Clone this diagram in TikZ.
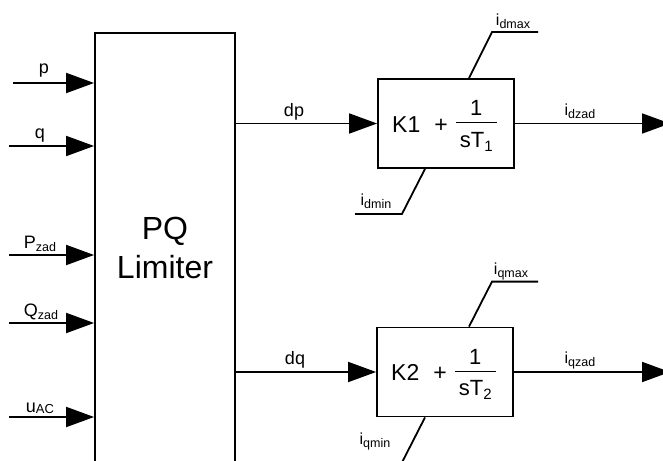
\documentclass[tikz,border=0pt]{standalone}
\usepackage{fontspec}
\setmainfont{Liberation Sans}
\usetikzlibrary{arrows.meta}
\newcommand\lsub[1]{\raisebox{-3pt}{\fontsize{12.5}{12.5}\selectfont #1}}
\newcommand\fsub[1]{\raisebox{-4pt}{\fontsize{15}{15}\selectfont #1}}
\newcommand\pifrac[1]{{\fontsize{23}{23}\selectfont K#1\hspace{14pt}+\hspace{8pt}}{\fontsize{22}{22}\selectfont\setlength{\arrayrulewidth}{1pt}\begin{tabular}{@{}c@{}}\makebox[41pt]{1}\\\hline\rule{0pt}{24pt}\makebox[41pt]{sT\fsub{#1}}\end{tabular}}}
\begin{document}
\begin{tikzpicture}[x=1pt,y=-1pt, line width=1.8pt,
  sig/.style={-{Triangle[length=28pt,width=20pt]}},
  lbl/.style={font=\fontsize{18}{18}\selectfont, anchor=base, inner sep=0pt},
  ilbl/.style={font=\fontsize{16}{16}\selectfont, anchor=base, inner sep=0pt},
  blk/.style={draw, rectangle, inner sep=0pt, minimum width=136pt, minimum height=89pt}]
\useasboundingbox (0,0) rectangle (663,460);
\clip (0,0) rectangle (663,460);
% PQ limiter
\node[draw, rectangle, inner sep=0pt, minimum width=140pt, minimum height=450pt] (pq) at (165,258) {};
\node[font=\fontsize{32}{39}\selectfont, align=center, inner sep=0pt] (pqt) at (165,248) {PQ\\Limiter};
% inputs
\coordinate (ip) at (13,83);
\coordinate (iq) at (9,146);
\coordinate (iP) at (9,255);
\coordinate (iQ) at (9,323);
\coordinate (iu) at (9,417);
\foreach \c in {ip,iq,iP,iQ,iu} \draw[sig] (\c) -- (\c -| pq.west);
\node[lbl] (lp) at (44,74) {p};
\node[lbl] (lq) at (40,138) {q};
\node[lbl] (lP) at (40,248) {P\lsub{zad}};
\node[lbl] (lQ) at (41,316) {Q\lsub{zad}};
\node[lbl] (lu) at (40,412) {u\raisebox{-1pt}{\fontsize{13}{13}\selectfont AC}};
% PI blocks
\node[blk] (k1) at (446,123.5) {};
\node[inner sep=0pt] (k1t) at (444.5,127) {\pifrac{1}};
\node[blk] (k2) at (445,372) {};
\node[inner sep=0pt] (k2t) at (443.5,375.5) {\pifrac{2}};
\draw[sig] (k1.west -| pq.east) -- (k1.west);
\draw[sig] (k2.west -| pq.east) -- (k2.west);
\node[lbl] (ldp) at (294,116) {dp};
\node[lbl] (ldq) at (295,364) {dq};
\coordinate (o1) at (670,123.5);
\coordinate (o2) at (670,372);
\draw[sig] (k1.east) -- (o1);
\draw[sig] (k2.east) -- (o2);
\node[ilbl] (lo1) at (580,115) {i\lsub{dzad}};
\node[ilbl] (lo2) at (580,363) {i\lsub{qzad}};
% limits
\draw ([xshift=23pt]k1.north) -- ++(23,-46) coordinate (m1) -- ++(46,0);
\draw ([xshift=-21pt]k1.south) -- ++(-23,45) coordinate (n1) -- ++(-47,0);
\draw ([xshift=24pt]k2.north) -- ++(23,-45) coordinate (m2) -- ++(46,0);
\draw ([xshift=-20pt]k2.south) -- ++(-23,45) coordinate (n2) -- ++(-47,0);
\node[ilbl] (lmax1) at (513,26) {i\lsub{dmax}};
\node[ilbl] (lmin1) at (376,205) {i\lsub{dmin}};
\node[ilbl] (lmax2) at (511,274) {i\lsub{qmax}};
\node[ilbl] (lmin2) at (375,444) {i\lsub{qmin}};
\end{tikzpicture}
\end{document}
